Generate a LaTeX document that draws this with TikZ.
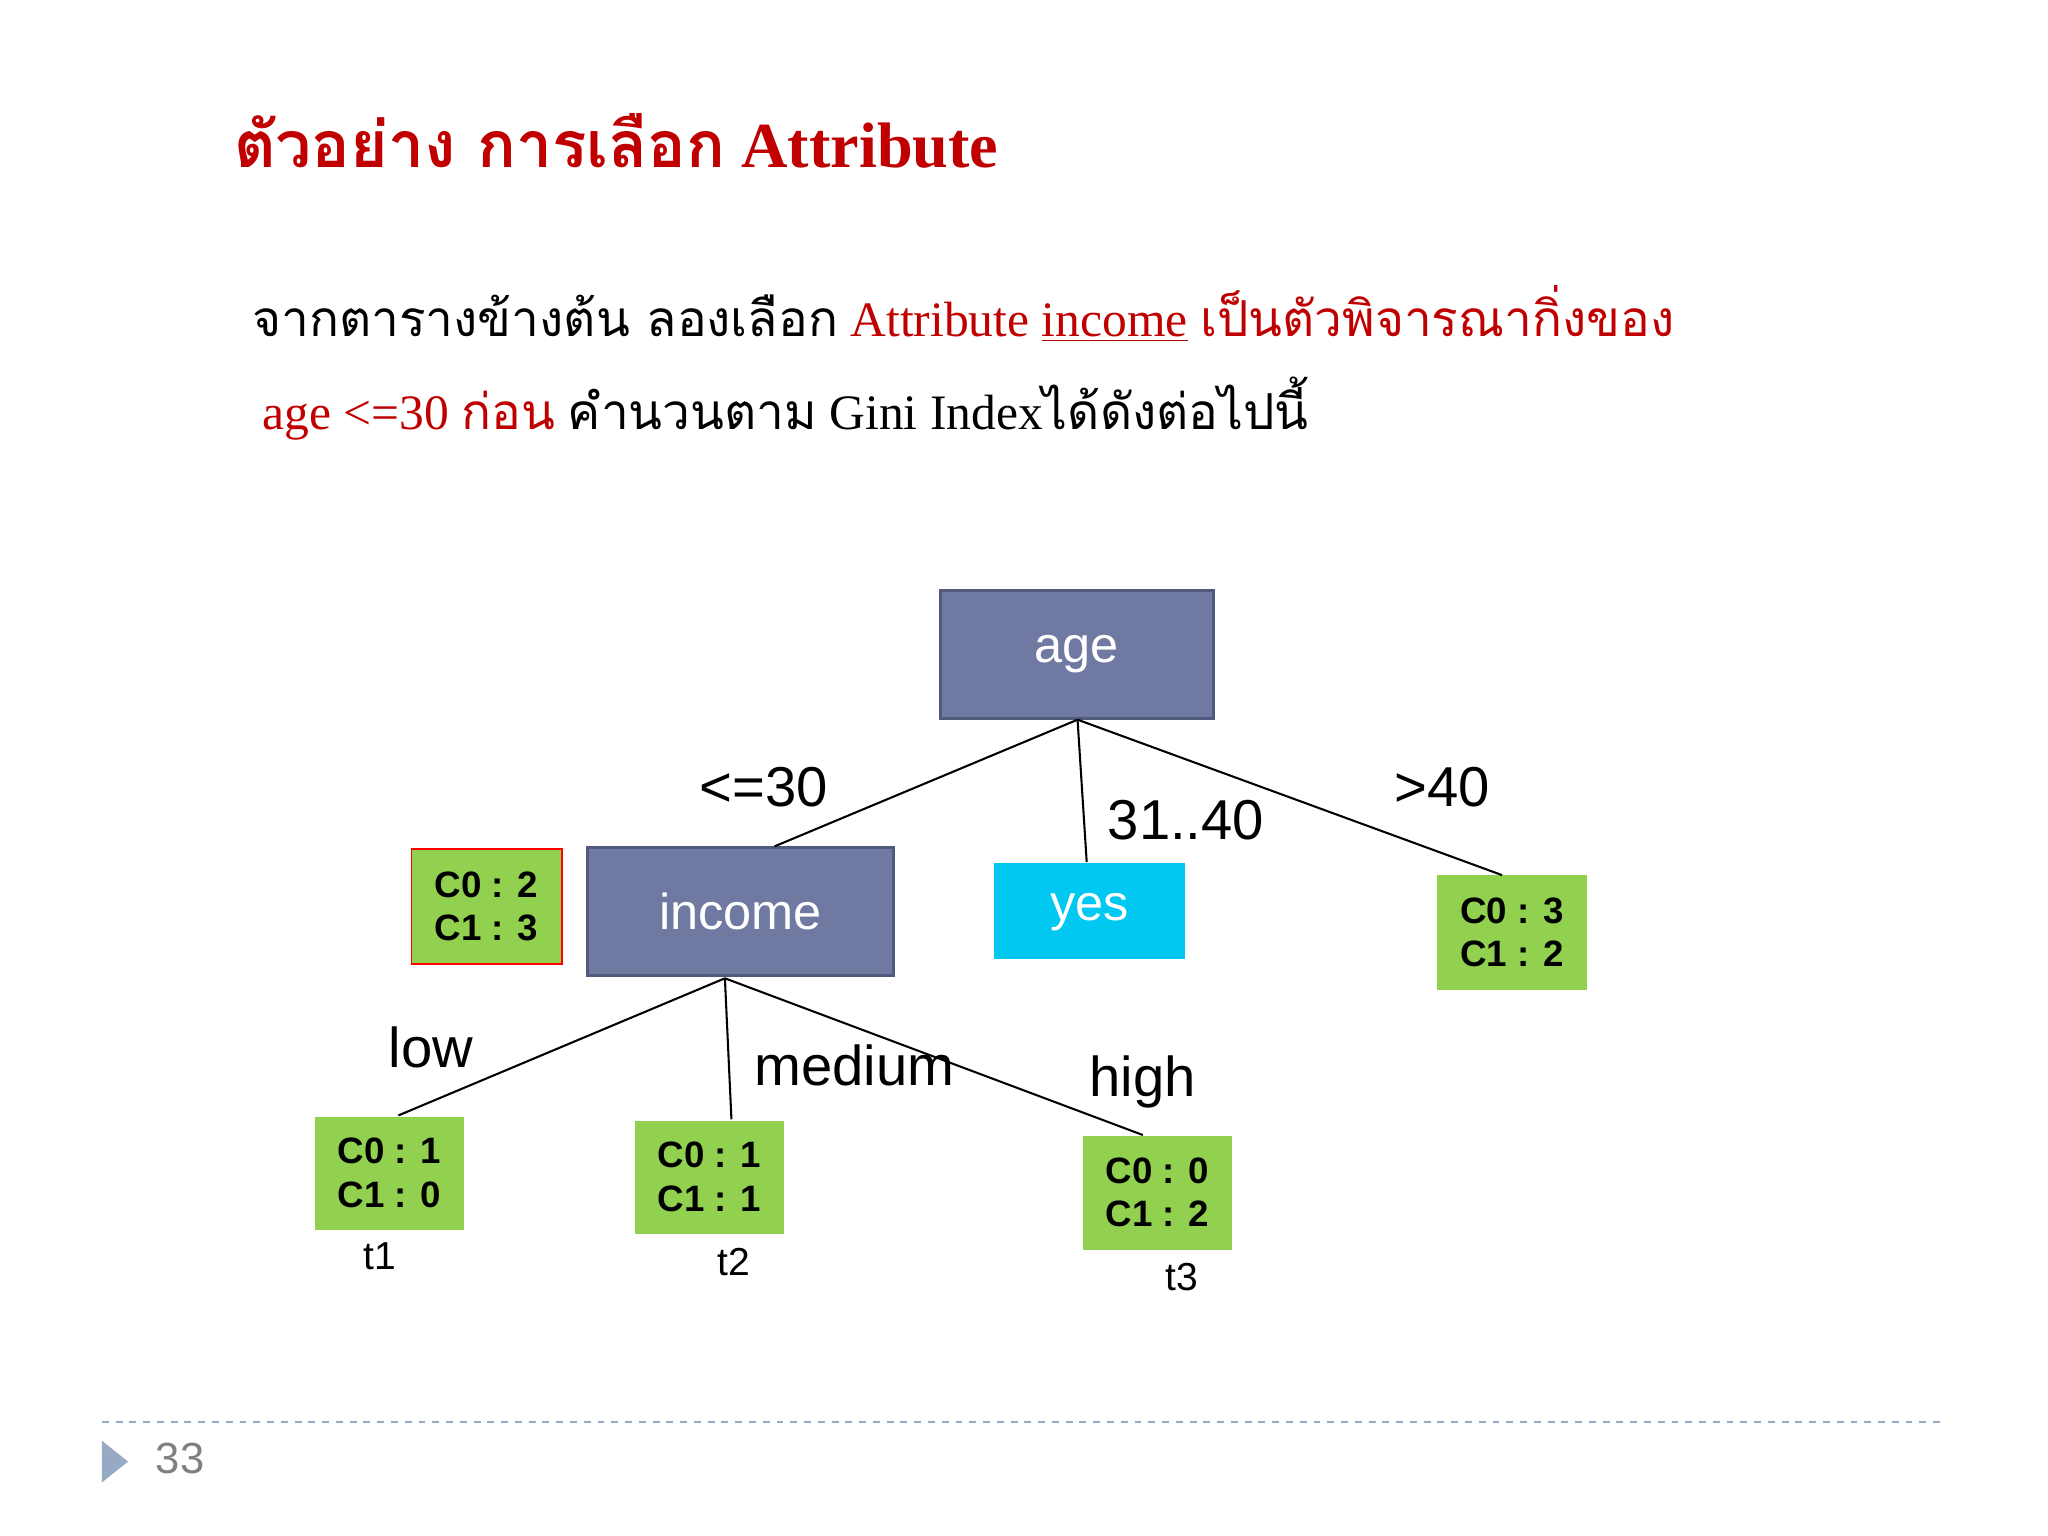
\documentclass[tikz,border=0pt]{standalone}
\usepackage{fontspec}
\setmainfont{Liberation Serif}
\newfontfamily\thaifont[Script=Thai]{Loma}
\newfontfamily\sans{Liberation Sans}
\definecolor{nodeblue}{RGB}{112,121,161}
\definecolor{nodeedge}{RGB}{80,90,125}
\definecolor{cyanbox}{RGB}{0,200,240}
\definecolor{leafgreen}{RGB}{146,208,80}
\definecolor{titlered}{RGB}{192,0,0}
\definecolor{dashc}{RGB}{150,170,195}
\begin{document}
\begin{tikzpicture}[x=0.02cm,y=-0.02cm,
  boxtxt/.style={text=white,font=\sans\fontsize{22}{26}\selectfont},
  inner box/.style={draw=nodeedge,line width=1.5pt,fill=nodeblue},
  leaf/.style={font=\sans\bfseries\fontsize{16}{18.8}\selectfont,align=center},
  elabel/.style={font=\sans\fontsize{24.5}{28}\selectfont},
  tlabel/.style={font=\sans\fontsize{17}{20}\selectfont},
  edge/.style={line width=0.9pt}]
\useasboundingbox (0,0) rectangle (1568,1176);
% title
\node[anchor=west,text=titlered,font=\bfseries\fontsize{28}{32}\selectfont] (title) at (173,108) {{\thaifont ตัวอย่าง การเลือก} Attribute};
\node[anchor=west,font=\fontsize{21.6}{26}\selectfont] (l1) at (187,240) {{\thaifont จากตารางข้างต้น ลองเลือก} \textcolor{titlered}{Attribute \underline{income} {\thaifont เป็นตัวพิจารณากิ่งของ}}};
\node[anchor=west,font=\fontsize{21.6}{26}\selectfont] (l2) at (195,313) {\textcolor{titlered}{age <=30 {\thaifont ก่อน}} {\thaifont คำนวนตาม} Gini Index{\thaifont ได้ดังต่อไปนี้}};
% nodes
\path[inner box] (720,452) rectangle (929,550);
\node[boxtxt] (age) at (824.5,501) {age};
\path[inner box] (450,649) rectangle (684,747);
\node[boxtxt] (income) at (567,698) {income};
\fill[cyanbox] (761,661) rectangle (907,734);
\node[boxtxt] (yes) at (834,698) {yes};
\draw[fill=leafgreen,draw=red,line width=0.8pt] (315,650) rectangle (430,738);
\node[leaf] (root) at (372.5,694) {C0 : 2\\C1 : 3};
\fill[leafgreen] (1100,670) rectangle (1215,758);
\node[leaf] (gt40) at (1157.5,714) {C0 : 3\\C1 : 2};
\fill[leafgreen] (241,855) rectangle (355,942);
\node[leaf] (t1) at (298,898) {C0 : 1\\C1 : 0};
\fill[leafgreen] (486,858) rectangle (600,945);
\node[leaf] (t2) at (543,901) {C0 : 1\\C1 : 1};
\fill[leafgreen] (829,870) rectangle (943,957);
\node[leaf] (t3) at (886,913) {C0 : 0\\C1 : 2};
% coordinates for edges
\coordinate (ab) at (825,551);
\coordinate (it) at (593,648);
\coordinate (yt) at (832,660);
\coordinate (gt) at (1150,670);
\coordinate (ib) at (555,749);
\coordinate (l1t) at (305,854);
\coordinate (l2t) at (560,857);
\coordinate (l3t) at (875,869);
\draw[edge] (ab) -- (it);
\draw[edge] (ab) -- (yt);
\draw[edge] (ab) -- (gt);
\draw[edge] (ib) -- (l1t);
\draw[edge] (ib) -- (l2t);
\draw[edge] (ib) -- (l3t);
% edge labels
\node[elabel] (e1) at (585,603) {<=30};
\node[elabel] (e2) at (908,628) {31..40};
\node[elabel] (e3) at (1104,603) {>40};
\node[elabel] (e4) at (330,802) {low};
\node[elabel] (e5) at (654,816) {medium};
\node[elabel] (e6) at (875,828) {high};
\node[tlabel] (n1) at (291,962) {t1};
\node[tlabel] (n2) at (562,966) {t2};
\node[tlabel] (n3) at (905,978) {t3};
% footer
\draw[dashc,dashed,line width=0.8pt] (78,1089) -- (1490,1089);
\fill[dashc] (78,1103) -- (98,1119) -- (78,1135) -- cycle;
\node[text=gray,font=\sans\fontsize{19}{22}\selectfont] (pg) at (138,1117) {33};
\end{tikzpicture}
\end{document}
